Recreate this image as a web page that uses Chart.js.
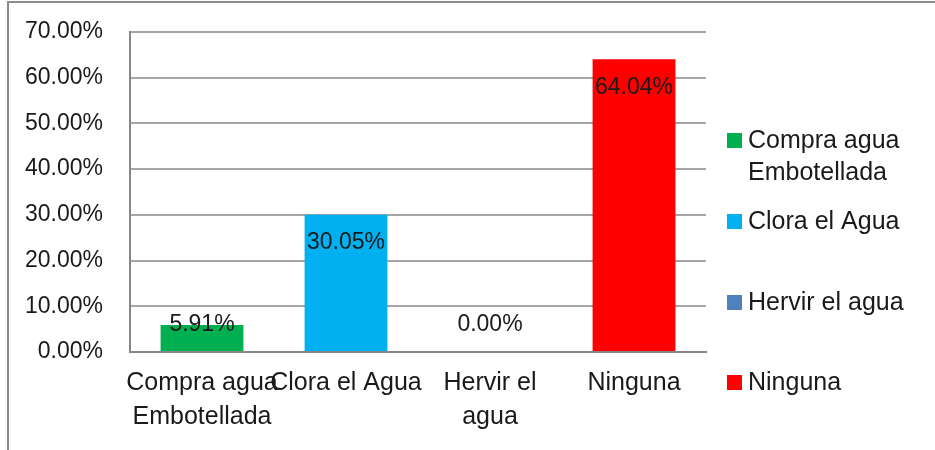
<!DOCTYPE html>
<html>
<head>
<meta charset="utf-8">
<script src="https://cdn.jsdelivr.net/npm/chart.js@4.4.1/dist/chart.umd.min.js"></script>
<style>
  html, body { margin: 0; padding: 0; background: #fff; }
  #wrap { width: 935px; height: 450px; position: relative; }
</style>
</head>
<body>
<div id="wrap"><canvas id="chartAgua" width="935" height="450"></canvas></div>
<script>
// 数据
var categorias = [['Compra agua', 'Embotellada'], ['Clora el Agua'], ['Hervir el', 'agua'], ['Ninguna']];
var leyenda = [['Compra agua', 'Embotellada'], ['Clora el Agua'], ['Hervir el agua'], ['Ninguna']];
var porcentajes = [5.91, 30.05, 0.00, 64.04];
var colores = ['#00b050', '#00b0f0', '#4f81bd', '#ff0000'];
var ticksY = [0, 10, 20, 30, 40, 50, 60, 70];

// 标签相对柱顶的偏移 (像素)
var labelOffset = [0, 28, -27, 28];
// 图例位置
var legendX = 727;
var legendY = [141, 222, 303, 383];

var textColor = '#1a1a1a';
var fontFamily = '"Liberation Sans", Arial, sans-serif';

var framePlugin = {
    id: 'frame',
    beforeDraw: function (chart) {
        var c = chart.ctx;
        c.save();
        c.fillStyle = '#fff';
        c.fillRect(0, 0, chart.width, chart.height);
        c.strokeStyle = '#8c8c8c';
        c.lineWidth = 2;
        c.beginPath();
        c.moveTo(8, chart.height);
        c.lineTo(8, 2);
        c.lineTo(chart.width, 2);
        c.stroke();
        c.restore();
    }
};

var labelsPlugin = {
    id: 'barLabels',
    afterDatasetsDraw: function (chart) {
        var c = chart.ctx;
        var meta = chart.getDatasetMeta(0);
        var y = chart.scales.y;
        c.save();
        c.font = '23px ' + fontFamily;
        c.fillStyle = textColor;
        c.textAlign = 'center';
        c.textBaseline = 'middle';
        meta.data.forEach(function (bar, i) {
            var py = y.getPixelForValue(porcentajes[i]) + labelOffset[i];
            c.fillText(porcentajes[i].toFixed(2) + '%', bar.x, py);
        });
        c.restore();
    }
};

var legendPlugin = {
    id: 'sideLegend',
    afterDraw: function (chart) {
        var c = chart.ctx;
        c.save();
        c.font = '25px ' + fontFamily;
        c.textAlign = 'left';
        c.textBaseline = 'middle';
        for (var i = 0; i < leyenda.length; i++) {
            c.fillStyle = colores[i];
            c.fillRect(legendX, legendY[i] - 8, 15, 15);
            c.fillStyle = textColor;
            for (var k = 0; k < leyenda[i].length; k++) {
                c.fillText(leyenda[i][k], legendX + 21, legendY[i] + k * 32);
            }
        }
        c.restore();
    }
};

new Chart(document.getElementById('chartAgua').getContext('2d'), {
    type: 'bar',
    data: {
        labels: categorias,
        datasets: [{
            data: porcentajes,
            backgroundColor: colores,
            borderWidth: 0,
            barPercentage: 0.575,
            categoryPercentage: 1
        }]
    },
    options: {
        responsive: false,
        animation: false,
        layout: { padding: { left: 0, right: 229, top: 32, bottom: 0 } },
        plugins: {
            legend: { display: false },
            tooltip: { enabled: false }
        },
        scales: {
            x: {
                grid: { display: false, drawTicks: false },
                border: { color: '#868686', width: 2 },
                ticks: {
                    autoSkip: false,
                    maxRotation: 0,
                    padding: 14,
                    color: textColor,
                    font: { size: 25, family: fontFamily, lineHeight: 1.35 }
                },
                afterFit: function (scale) { scale.height = 98; }
            },
            y: {
                min: 0,
                max: 70,
                afterBuildTicks: function (scale) {
                    scale.ticks = ticksY.map(function (v) { return { value: v }; });
                },
                grid: {
                    color: '#a6a6a6',
                    lineWidth: 2,
                    drawTicks: true,
                    tickLength: 27,
                    tickColor: 'rgba(0,0,0,0)'
                },
                border: { color: '#868686', width: 2 },
                ticks: {
                    padding: 0,
                    color: textColor,
                    font: { size: 23, family: fontFamily },
                    callback: function (v) { return v.toFixed(2) + '%'; }
                },
                afterFit: function (scale) { scale.width = 130; }
            }
        }
    },
    plugins: [framePlugin, labelsPlugin, legendPlugin]
});
</script>
</body>
</html>
